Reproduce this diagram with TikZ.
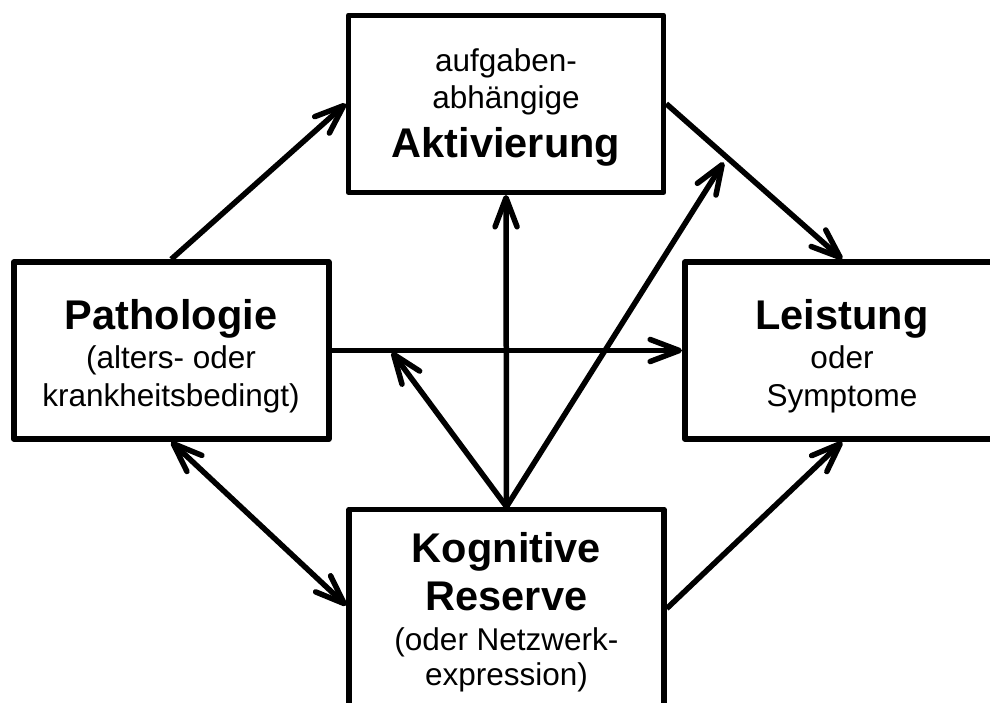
\documentclass[tikz,border=0pt]{standalone}
\usepackage{fontspec}
\setmainfont{Liberation Sans}
\usetikzlibrary{arrows.meta,calc}
\begin{document}
\begin{tikzpicture}[x=1pt,y=-1pt,
  box/.style={draw=black,line width=5.5pt,line join=round,fill=white,
    minimum width=315pt,minimum height=177pt,inner sep=0pt},
  norm/.style={anchor=base,inner sep=0pt,font=\fontsize{31.5}{37}\selectfont},
  bold/.style={anchor=base,inner sep=0pt,font=\fontsize{41.5}{49}\selectfont\bfseries},
  conn/.style={line width=5.5pt,-{Straight Barb[length=29pt,width=22pt,round]}},
  dbl/.style={line width=5.5pt,{Straight Barb[length=29pt,width=22pt,round]}-{Straight Barb[length=29pt,width=22pt,round]}}
]
\fill[white] (0,0) rectangle (990,702);
\useasboundingbox (0,0) rectangle (990,702);
\begin{scope}
\clip (0,0) rectangle (990,702);

% boxes
\node[box] (act) at (506,103.75) {};
\node[box] (path) at (171.25,350.5) {};
\node[box] (leist) at (842.25,350.5) {};
\node[box,minimum height=198pt] (kog) at (506.5,608.5) {};

% texts
\node[norm] (act1) at (506,71) {aufgaben-};
\node[norm] (act2) at (506,108) {abhängige};
\node[bold] (act3) at (506,157) {Aktivierung};

\node[bold] (path1) at (171,329) {Pathologie};
\node[norm] (path2) at (171,368) {(alters- oder};
\node[norm] (path3) at (171,406) {krankheitsbedingt)};

\node[bold] (leist1) at (842,329) {Leistung};
\node[norm] (leist2) at (842,368) {oder};
\node[norm] (leist3) at (842,406) {Symptome};

\node[bold] (kog1) at (506.5,562) {Kognitive};
\node[bold] (kog2) at (506.5,610) {Reserve};
\node[norm] (kog3) at (506.5,650) {(oder Netzwerk-};
\node[norm] (kog4) at (506.5,685) {expression)};

% points where arrows meet other arrows
\coordinate (m1) at ($(path.east)!0.169!(leist.west)$);
\coordinate (m2) at ($(act.east)!0.344!(leist.north)$);

% connectors
\draw[conn] (path.north) -- (act.west);
\draw[conn] (act.east) -- (leist.north);
\draw[conn] (path.east) -- (leist.west);
\draw[dbl] (path.south) -- ([yshift=3pt]kog.west);
\draw[conn] (kog.east) -- (leist.south);
\draw[conn] (kog.north) -- (act.south);
\draw[conn,shorten >=2pt] (kog.north) -- (m1);
\draw[conn,shorten >=6pt] (kog.north) -- (m2);
\end{scope}
\end{tikzpicture}
\end{document}
